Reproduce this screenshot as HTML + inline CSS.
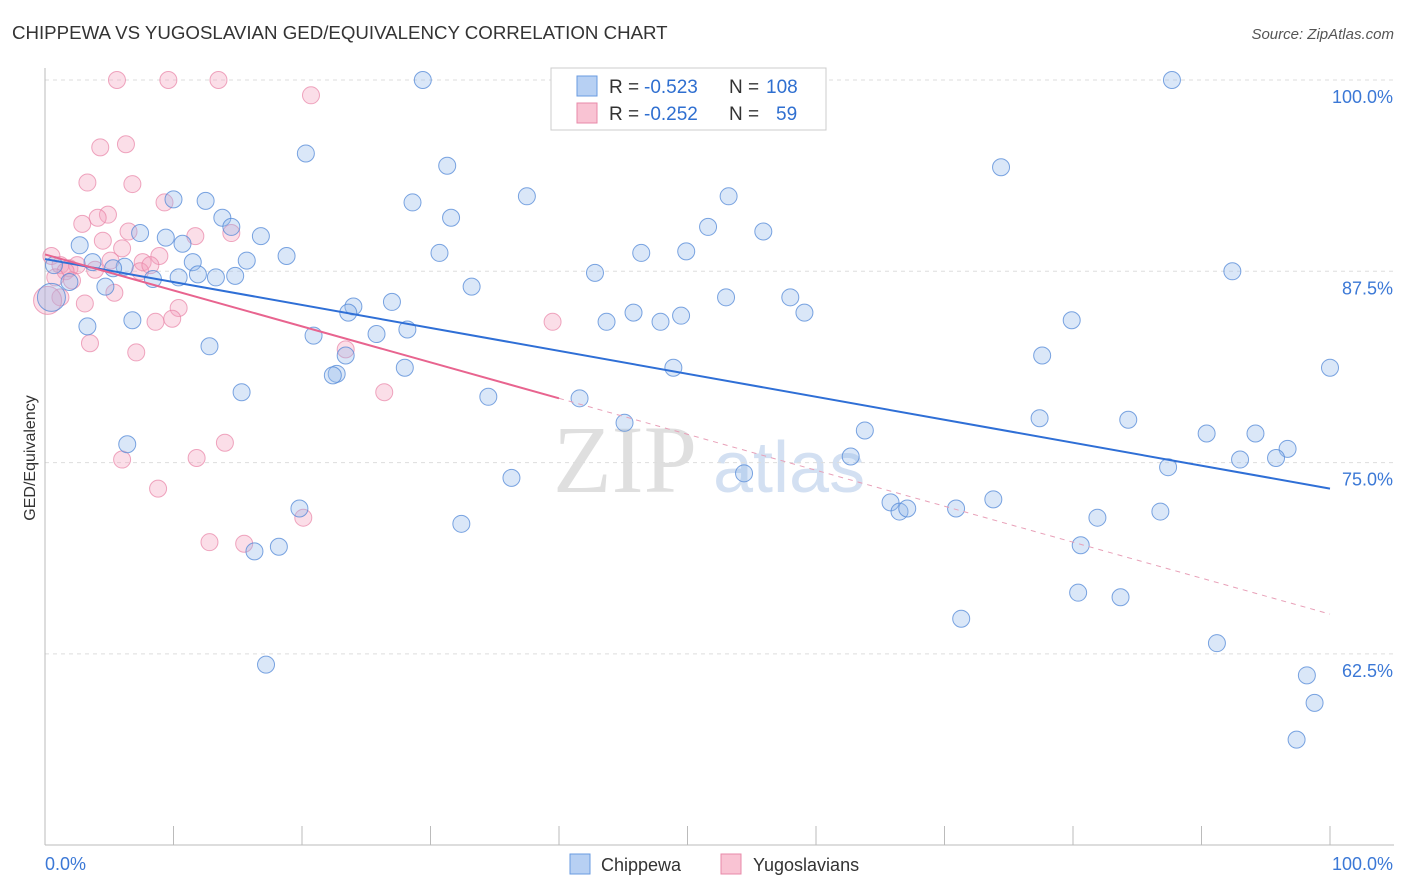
<!DOCTYPE html>
<html><head><meta charset="utf-8">
<style>
body{margin:0;background:#fff;font-family:"Liberation Sans",sans-serif;}
svg{display:block}
</style></head>
<body>
<svg id="chart" width="1406" height="892" xmlns="http://www.w3.org/2000/svg">
<text x="12" y="39" font-size="18.7" fill="#333">CHIPPEWA VS YUGOSLAVIAN GED/EQUIVALENCY CORRELATION CHART</text>
<text x="1394" y="39" font-size="15" fill="#555" font-style="italic" text-anchor="end">Source: ZipAtlas.com</text>
<text x="35" y="458" font-size="16" fill="#333" text-anchor="middle" transform="rotate(-90 35 458)">GED/Equivalency</text>
<g>
<text x="553" y="492" font-size="96" font-family="Liberation Serif,serif" fill="#d8d8d8" opacity="0.8">ZIP</text>
<text x="713" y="492" font-size="72" fill="#c9d9ef" opacity="0.8">atlas</text>
</g>
<g id="grid"></g>
<g id="axes"></g>
<g id="marks"></g>
<g id="trends"></g>
<g>
<rect x="551" y="68" width="275" height="62" fill="#fff" stroke="#ccc"/>
<rect x="577" y="76" width="20" height="20" fill="#b7d0f3" stroke="#6a9be0"/>
<g font-size="19">
<text x="609" y="93" fill="#333">R =</text><text x="644" y="93" fill="#2f6fd0">-0.523</text>
<text x="729" y="93" fill="#333">N =</text><text x="766" y="93" fill="#2f6fd0">108</text></g>
<rect x="577" y="103" width="20" height="20" fill="#f9c3d3" stroke="#e88aa8"/>
<g font-size="19">
<text x="609" y="120" fill="#333">R =</text><text x="644" y="120" fill="#2f6fd0">-0.252</text>
<text x="729" y="120" fill="#333">N =</text><text x="776" y="120" fill="#2f6fd0">59</text></g>
</g>
<g>
<rect x="570" y="854" width="20" height="20" fill="#b7d0f3" stroke="#6a9be0"/>
<text x="601" y="871" font-size="18" fill="#333">Chippewa</text>
<rect x="721" y="854" width="20" height="20" fill="#f9c3d3" stroke="#e88aa8"/>
<text x="753" y="871" font-size="18" fill="#333">Yugoslavians</text>
</g>
</svg>
<script>
const yTicks=[100,87.5,75,62.5];
const yTickLabels=["100.0%","87.5%","75.0%","62.5%"];
const xTicks=[0,10,20,30,40,50,60,70,80,90,100];
const chipX=[29.4,87.7,20.3,31.3,74.4,10.0,12.5,28.6,37.5,53.2,13.8,31.6,14.5,51.6,7.4,9.4,16.8,55.9,10.7,30.7,46.4,49.9,2.7,18.8,15.7,11.5,3.7,6.2,5.3,0.7,13.3,14.8,11.9,10.4,8.4,1.9,4.7,42.8,92.4,33.2,27.0,24.0,23.6,53.0,58.0,45.8,59.1,6.8,43.7,47.9,49.5,79.9,3.3,20.9,25.8,28.2,12.8,23.4,77.6,48.9,28.0,100,22.7,22.4,15.3,34.5,41.6,77.4,45.1,84.3,6.4,63.8,90.4,94.2,96.7,62.7,93.0,95.8,87.4,54.4,36.3,73.8,65.8,19.8,66.5,67.1,70.9,86.8,81.9,32.4,16.3,18.2,80.6,80.4,83.7,71.3,91.2,17.2,98.2,98.8,97.4,0.5];
const chipY=[100,100,95.2,94.4,94.3,92.2,92.1,92.0,92.4,92.4,91.0,91.0,90.4,90.4,90.0,89.7,89.8,90.1,89.3,88.7,88.7,88.8,89.2,88.5,88.2,88.1,88.1,87.8,87.7,87.9,87.1,87.2,87.3,87.1,87.0,86.8,86.5,87.4,87.5,86.5,85.5,85.2,84.8,85.8,85.8,84.8,84.8,84.3,84.2,84.2,84.6,84.3,83.9,83.3,83.4,83.7,82.6,82.0,82.0,81.2,81.2,81.2,80.8,80.7,79.6,79.3,79.2,77.9,77.6,77.8,76.2,77.1,76.9,76.9,75.9,75.4,75.2,75.3,74.7,74.3,74.0,72.6,72.4,72.0,71.8,72.0,72.0,71.8,71.4,71.0,69.2,69.5,69.6,66.5,66.2,64.8,63.2,61.8,61.1,59.3,56.9,85.8];
const yugoX=[5.6,9.6,13.5,20.7,4.3,6.3,3.3,6.8,4.9,4.1,2.9,9.3,14.5,11.7,4.5,6.5,6.0,0.5,1.2,1.9,2.5,1.6,3.9,5.1,7.6,8.9,7.4,8.2,0.8,2.1,1.2,3.1,5.4,10.4,9.9,8.6,39.5,3.5,7.1,23.4,26.4,14.0,6.0,11.8,8.8,20.1,12.8,15.5,0.2];
const yugoY=[100,100,100,99.0,95.6,95.8,93.3,93.2,91.2,91.0,90.6,92.0,90.0,89.8,89.5,90.1,89.0,88.5,87.9,87.7,87.9,87.5,87.6,88.2,88.1,88.5,87.5,87.9,87.1,86.9,85.8,85.4,86.1,85.1,84.4,84.2,84.2,82.8,82.2,82.4,79.6,76.3,75.2,75.3,73.3,71.4,69.8,69.7,85.6];
const chipTrend=[88.3,73.3];
const yugoTrend=[88.6,65.1];
const yugoSolidEnd=40;

const NS="http://www.w3.org/2000/svg";
const X0=45,X1=1330,Ytop=80,PX125=191.3;
const sx=v=>X0+(X1-X0)*v/100;
const sy=v=>Ytop+(100-v)/12.5*PX125;
function mk(tag,attrs,parent){const e=document.createElementNS(NS,tag);for(const k in attrs)e.setAttribute(k,attrs[k]);document.getElementById(parent).appendChild(e);return e;}

yTicks.forEach((t,i)=>{
 const l=mk('line',{x1:45,x2:1394,y1:sy(t),y2:sy(t),stroke:'#ddd','stroke-dasharray':'4,4'},'grid');
 
 
 const tx=mk('text',{x:1393,y:sy(t)+23,'font-size':18,fill:'#3b78d6','text-anchor':'end'},'axes');
 tx.textContent=yTickLabels[i];
 
 
});
const ya=mk('line',{x1:45,x2:45,y1:68,y2:845,stroke:'#bbb'},'axes');


const xa=mk('line',{x1:45,x2:1394,y1:845,y2:845,stroke:'#bbb'},'axes');


xTicks.forEach(t=>{
 const l=mk('line',{x1:sx(t),x2:sx(t),y1:826,y2:845,stroke:'#bbb'},'axes');
 
 
});
const xl0=mk('text',{x:45,y:870,'font-size':18,fill:'#3b78d6'},'axes');xl0.textContent='0.0%';


const xl1=mk('text',{x:1393,y:870,'font-size':18,fill:'#3b78d6','text-anchor':'end'},'axes');xl1.textContent='100.0%';



yugoX.forEach((x,i)=>{
 const big=i===yugoX.length-1;
 const c=mk('circle',{cx:sx(x),cy:sy(yugoY[i]),r:big?14:8.5,fill:'rgba(244,160,188,0.35)',stroke:'rgba(232,130,165,0.7)','stroke-width':1},'marks');
 
 
});
chipX.forEach((x,i)=>{
 const big=i===chipX.length-1;
 const c=mk('circle',{cx:sx(x),cy:sy(chipY[i]),r:big?14:8.5,fill:'rgba(150,185,235,0.35)',stroke:'rgba(80,135,215,0.75)','stroke-width':1},'marks');
 
 
});
const ly=x=>yugoTrend[0]+(yugoTrend[1]-yugoTrend[0])*x/100;
const bt=mk('line',{x1:sx(0),y1:sy(chipTrend[0]),x2:sx(100),y2:sy(chipTrend[1]),stroke:'#2f6fd6','stroke-width':2},'trends');


const pt=mk('line',{x1:sx(0),y1:sy(ly(0)),x2:sx(yugoSolidEnd),y2:sy(ly(yugoSolidEnd)),stroke:'#e8648f','stroke-width':2},'trends');


const pd=mk('line',{x1:sx(yugoSolidEnd),y1:sy(ly(yugoSolidEnd)),x2:sx(100),y2:sy(ly(100)),stroke:'#e8a0b8','stroke-width':1,'stroke-dasharray':'5,5'},'trends');


</script>
</body></html>
